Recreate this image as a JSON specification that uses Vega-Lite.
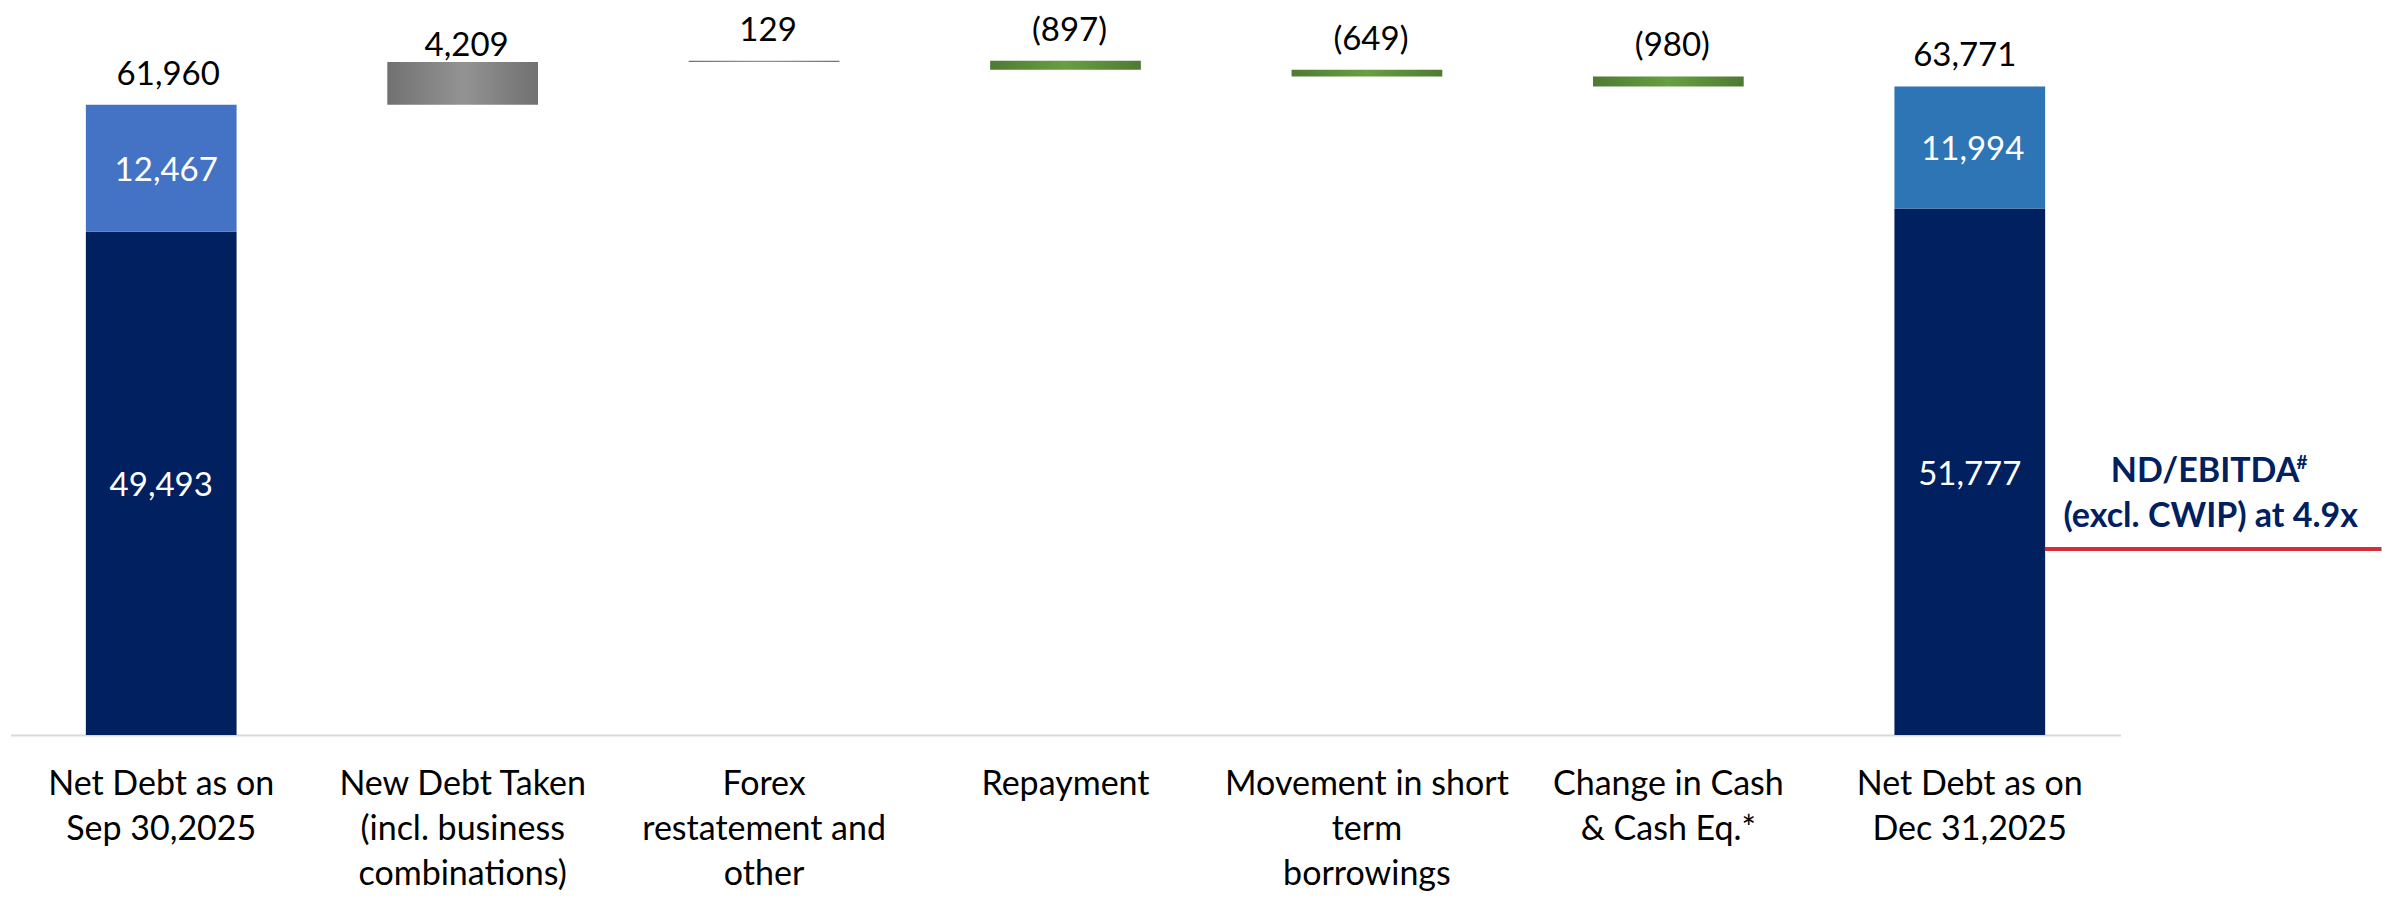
{"$schema":"https://vega.github.io/schema/vega-lite/v6.json","width":2371,"height":735,"autosize":"none","padding":{"left":10.5,"top":0,"right":0,"bottom":165},"background":"white","config":{"view":{"stroke":null},"font":"Lato"},
"layer":[
{"data":{"values":[
{"step":"Net Debt as on|Sep 30,2025","segment":"Core debt, Sep","kind":"stack","start":0,"end":49493,"label":"49,493"},
{"step":"Net Debt as on|Sep 30,2025","segment":"Other debt, Sep","kind":"stack","start":49493,"end":61960,"label":"12,467"},
{"step":"Net Debt as on|Sep 30,2025","segment":"Total","kind":"total","start":0,"end":61960,"label":"61,960"},
{"step":"New Debt Taken|(incl. business|combinations)","segment":"Change","kind":"increase","start":61960,"end":66169,"label":"4,209"},
{"step":"Forex|restatement and|other","segment":"Change","kind":"increase","start":66169,"end":66298,"label":"129"},
{"step":"Repayment","segment":"Change","kind":"decrease","start":65401,"end":66298,"label":"(897)"},
{"step":"Movement in short|term|borrowings","segment":"Change","kind":"decrease","start":64752,"end":65401,"label":"(649)"},
{"step":"Change in Cash|& Cash Eq.*","segment":"Change","kind":"decrease","start":63772,"end":64752,"label":"(980)"},
{"step":"Net Debt as on|Dec 31,2025","segment":"Core debt, Dec","kind":"stack","start":0,"end":51777,"label":"51,777"},
{"step":"Net Debt as on|Dec 31,2025","segment":"Other debt, Dec","kind":"stack","start":51777,"end":63771,"label":"11,994"},
{"step":"Net Debt as on|Dec 31,2025","segment":"Total","kind":"total","start":0,"end":63771,"label":"63,771"}
]},
"encoding":{
"x":{"field":"step","type":"nominal","sort":["Net Debt as on|Sep 30,2025","New Debt Taken|(incl. business|combinations)","Forex|restatement and|other","Repayment","Movement in short|term|borrowings","Change in Cash|& Cash Eq.*","Net Debt as on|Dec 31,2025"],"title":null,"scale":{"domain":["Net Debt as on|Sep 30,2025","New Debt Taken|(incl. business|combinations)","Forex|restatement and|other","Repayment","Movement in short|term|borrowings","Change in Cash|& Cash Eq.*","Net Debt as on|Dec 31,2025"],"range":[0,2110],"paddingInner":0.5,"paddingOuter":0.25},
"axis":{"labelExpr":"split(datum.label,'|')","labelAngle":0,"labelFontSize":34,"labelFont":"Lato","labelColor":"#000000","labelLineHeight":45,"labelPadding":32,"labelOverlap":false,"labelBound":false,"labelLimit":0,"ticks":false,"domainColor":"#D9D9D9","domainWidth":2,"grid":false,"labelBaseline":"top"}},
"y":{"field":"start","type":"quantitative","title":null,"scale":{"domain":[0,72270],"nice":false,"zero":false},"axis":null}
},
"layer":[
{"transform":[{"filter":"datum.kind==='stack'"}],"mark":{"type":"bar","clip":false},"encoding":{"y2":{"field":"end"},"color":{"field":"segment","type":"nominal","legend":null,"scale":{"domain":["Core debt, Sep","Other debt, Sep","Core debt, Dec","Other debt, Dec"],"range":["#002060","#4472C4","#002060","#2E75B6"]}}}},
{"transform":[{"filter":"datum.kind==='increase'"}],"mark":{"type":"bar","color":{"gradient":"linear","x1":0,"y1":0,"x2":1,"y2":0,"stops":[{"offset":0,"color":"#717171"},{"offset":0.5,"color":"#939393"},{"offset":1,"color":"#717171"}]}},"encoding":{"y2":{"field":"end"}}},
{"transform":[{"filter":"datum.kind==='decrease'"}],"mark":{"type":"bar","color":{"gradient":"linear","x1":0,"y1":0,"x2":1,"y2":0,"stops":[{"offset":0,"color":"#4E7A33"},{"offset":0.5,"color":"#689F41"},{"offset":1,"color":"#4E7A33"}]}},"encoding":{"y2":{"field":"end"}}},
{"transform":[{"filter":"datum.kind==='stack'"},{"calculate":"(datum.start+datum.end)/2","as":"mid"}],"mark":{"type":"text","fontSize":33,"font":"Lato","color":"#FFFFFF","dy":3,"dx":{"expr":"datum.label==='12,467'?5:datum.label==='11,994'?3:0"}},"encoding":{"y":{"field":"mid","type":"quantitative"},"text":{"field":"label"}}},
{"transform":[{"filter":"datum.kind!=='stack'"}],"mark":{"type":"text","fontSize":33,"font":"Lato","color":"#000000","baseline":"middle","dx":{"expr":"datum.label==='61,960'?7:datum.label==='63,771'?-5:4"},"dy":{"expr":"datum.label==='4,209'?-16:-30"}},"encoding":{"y":{"field":"end","type":"quantitative"},"text":{"field":"label"}}}
]},
{"data":{"values":[{"note":"leader","from":0.858,"to":1,"level":18290}]},
"mark":{"type":"rule","color":"#D32F35","strokeWidth":4},
"encoding":{"x":{"field":"from","type":"quantitative","scale":{"domain":[0,1],"nice":false,"zero":false},"axis":null},"x2":{"field":"to"},"y":{"field":"level","type":"quantitative"}}},
{"data":{"values":[
{"text":"ND/EBITDA","pos":0.9256,"level":25860,"part":"main"},
{"text":"(excl. CWIP) at 4.9x","pos":0.928,"level":21435,"part":"main"}
]},
"mark":{"type":"text","font":"Lato","fontWeight":"bold","fontSize":34,"color":"#002060","baseline":"middle"},
"encoding":{"x":{"field":"pos","type":"quantitative","scale":{"domain":[0,1],"nice":false,"zero":false},"axis":null},"y":{"field":"level","type":"quantitative"},"text":{"field":"text"}}},
{"data":{"values":[{"text":"#","pos":0.9665,"level":26700}]},
"mark":{"type":"text","font":"Lato","fontWeight":"bold","fontSize":19,"color":"#002060","baseline":"middle"},
"encoding":{"x":{"field":"pos","type":"quantitative","scale":{"domain":[0,1],"nice":false,"zero":false},"axis":null},"y":{"field":"level","type":"quantitative"},"text":{"field":"text"}}}
],
"resolve":{"scale":{"x":"independent","color":"independent"}}}
